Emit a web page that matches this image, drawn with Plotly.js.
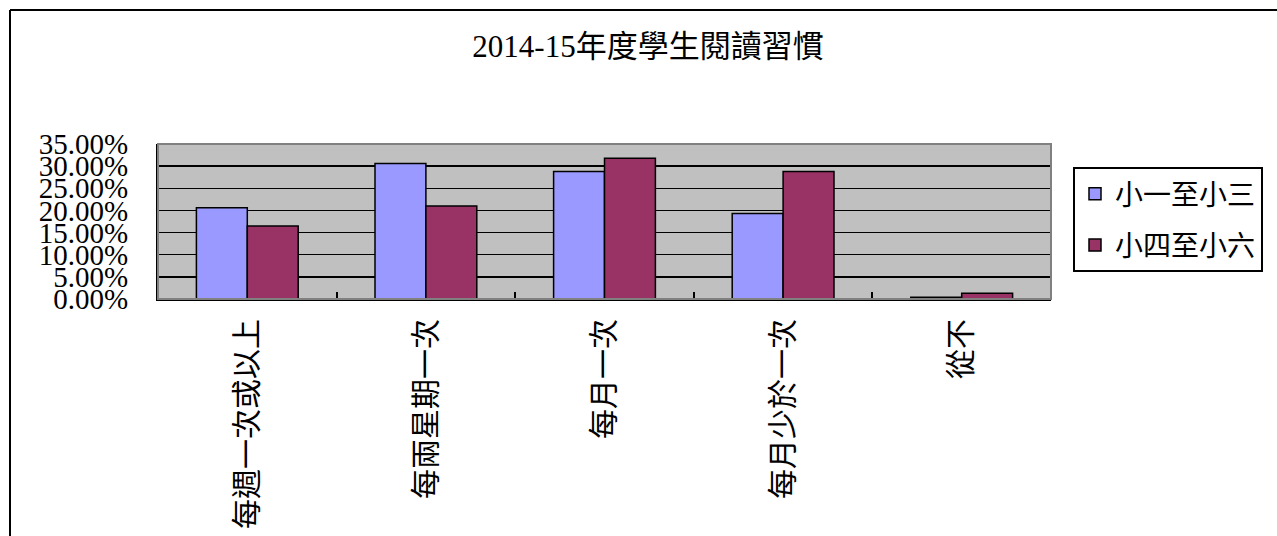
<!DOCTYPE html>
<html>
<head>
<meta charset="utf-8">
<script src="https://cdn.plot.ly/plotly-3.0.1.min.js"></script>
<style>html,body{margin:0;padding:0;background:#fff;}#chart{width:1277px;height:536px;}</style>
</head>
<body>
<div id="chart"></div>
<script>
const categories = ["每週一次或以上", "每兩星期一次", "每月一次", "每月少於一次", "從不"];
const seriesNames = ["小一至小三", "小四至小六"];
const juniorValues = [0.206, 0.306, 0.288, 0.193, 0.004];
const seniorValues = [0.165, 0.210, 0.318, 0.288, 0.013];
const yTickValues = [0, 0.05, 0.10, 0.15, 0.20, 0.25, 0.30, 0.35];

const W = 1277, H = 536;
const L = 158, R = 1051, T = 144, B = 299;
const px = v => (v - L) / (R - L);
const py = v => (B - v) / (B - T);

const serif = "Liberation Serif, 'Noto Sans CJK TC', serif";
const cjk = "'Noto Sans CJK TC', 'Liberation Serif', sans-serif";

const traces = [
  {type: 'bar', name: seriesNames[0], x: categories, y: juniorValues, legendgroup: 'a',
   marker: {color: '#9999FF', line: {color: '#000', width: 1.5}}, hoverinfo: 'skip'},
  {type: 'bar', name: seriesNames[1], x: categories, y: seniorValues, legendgroup: 'b',
   marker: {color: '#993366', line: {color: '#000', width: 1.5}}, hoverinfo: 'skip'}
];

const layout = {
  width: W, height: H,
  margin: {l: L, r: W - R, t: T, b: H - B, pad: 0},
  paper_bgcolor: '#fff',
  plot_bgcolor: '#C0C0C0',
  barmode: 'group',
  bargap: 0.43,
  bargroupgap: 0,
  title: {text: '2014-15年度學生閱讀習慣', font: {family: serif, size: 31, color: '#000'},
          x: 648 / W, xref: 'container', xanchor: 'center', y: 1 - 46 / H, yref: 'container', yanchor: 'middle'},
  xaxis: {
    type: 'category',
    tickangle: -90,
    tickfont: {family: cjk, size: 30, color: '#000'},
    ticks: 'inside', tickson: 'boundaries', ticklen: 7, tickwidth: 2, tickcolor: '#000',
    showline: true, linecolor: '#000', linewidth: 2,
    showgrid: false, zeroline: false,
    ticklabelstandoff: 6,
    fixedrange: true
  },
  yaxis: {
    range: [0, 0.35],
    tickvals: yTickValues,
    tickformat: '.2%',
    tickfont: {family: serif, size: 29, color: '#000'},
    showline: true, linecolor: '#000', linewidth: 2,
    showgrid: true, gridcolor: '#000', gridwidth: 1.5,
    zeroline: false, ticks: '',
    ticklabelstandoff: 22,
    fixedrange: true
  },
  legend: {
    x: px(1073), y: py(167), xanchor: 'left', yanchor: 'top',
    bordercolor: '#000', borderwidth: 2, bgcolor: '#fff',
    font: {family: cjk, size: 28, color: '#000'},
    traceorder: 'grouped', tracegroupgap: 12,
    itemwidth: 30
  },
  shapes: [
    {type: 'rect', xref: 'paper', yref: 'paper', x0: 0, x1: 1, y0: 0, y1: 1,
     line: {color: '#808080', width: 2}, layer: 'above'},
    {type: 'line', xref: 'paper', yref: 'paper', x0: px(10), x1: px(1290), y0: py(10), y1: py(10),
     line: {color: '#000', width: 2}},
    {type: 'line', xref: 'paper', yref: 'paper', x0: px(10), x1: px(10), y0: py(10), y1: py(560),
     line: {color: '#000', width: 2}}
  ],
  showlegend: true
};

Plotly.newPlot('chart', traces, layout, {displayModeBar: false, staticPlot: true});
</script>
</body>
</html>
